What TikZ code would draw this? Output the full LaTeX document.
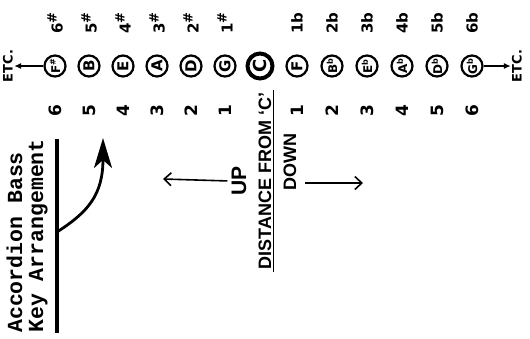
\documentclass[tikz,border=0pt]{standalone}
\usepackage{fontspec}
\setmainfont{Liberation Sans}
\setmonofont{Liberation Mono}
\newfontfamily\stencil{DejaVu Sans}
\usetikzlibrary{arrows,arrows.meta,positioning}

\newcommand{\shp}{\raisebox{0.4em}{\fontsize{13}{13}\selectfont\#}}

\begin{document}
\begin{tikzpicture}[x=1pt,y=-1pt,on grid,node distance=34pt,
  key node/.style={circle,draw,line width=2.2pt,minimum size=21pt,inner sep=0pt,rotate=90,
    font=\fontsize{15}{15}\stencil\bfseries},
  small key/.style={key node,font=\fontsize{12}{12}\stencil\bfseries},
  c node/.style={key node,line width=4pt,minimum size=25pt,font=\fontsize{18}{18}\stencil\bfseries},
  top label/.style={rotate=90,inner sep=1pt,font=\fontsize{15}{15}\stencil\bfseries},
  num label/.style={rotate=90,inner sep=1pt,font=\fontsize{17}{17}\stencil\bfseries},
  etc label/.style={rotate=90,inner sep=1pt,font=\fontsize{13}{13}\stencil\bfseries},
  dist label/.style={rotate=90,inner sep=2pt,font=\fontsize{18}{18}\selectfont\bfseries},
  dir arrow/.style={line width=1.6pt,-{Straight Barb[length=7pt,width=13pt]}}]

  \useasboundingbox (0,0) rectangle (530,338);

  % row of bass keys
  \node[c node] (c) at (260,66) {C};
  \node[key node] (g) [left=35pt of c] {G};
  \node[key node] (d) [left=of g] {D};
  \node[key node] (a) [left=of d] {A};
  \node[key node] (e) [left=of a] {E};
  \node[key node] (b) [left=of e] {B};
  \node[small key] (fs) [left=of b] {F\textsuperscript{\#}};
  \node[key node] (f) [right=37pt of c] {F};
  \node[small key] (bb) [right=35pt of f] {B\textsuperscript{b}};
  \node[small key] (eb) [right=35pt of bb] {E\textsuperscript{b}};
  \node[small key] (ab) [right=35pt of eb] {A\textsuperscript{b}};
  \node[small key] (db) [right=35pt of ab] {D\textsuperscript{b}};
  \node[small key] (gb) [right=35pt of db] {G\textsuperscript{b}};

  % sharps and flats above
  \node[top label] (s1) [above=43pt of g] {1\shp};
  \node[top label] (s2) [above=43pt of d] {2\shp};
  \node[top label] (s3) [above=43pt of a] {3\shp};
  \node[top label] (s4) [above=43pt of e] {4\shp};
  \node[top label] (s5) [above=43pt of b] {5\shp};
  \node[top label] (s6) [above=43pt of fs] {6\shp};
  \node[top label] (f1) [above=43pt of f] {1b};
  \node[top label] (f2) [above=43pt of bb] {2b};
  \node[top label] (f3) [above=43pt of eb] {3b};
  \node[top label] (f4) [above=43pt of ab] {4b};
  \node[top label] (f5) [above=43pt of db] {5b};
  \node[top label] (f6) [above=43pt of gb] {6b};

  % distance below
  \node[num label] (u1) [below=45pt of g] {1};
  \node[num label] (u2) [below=45pt of d] {2};
  \node[num label] (u3) [below=45pt of a] {3};
  \node[num label] (u4) [below=45pt of e] {4};
  \node[num label] (u5) [below=45pt of b] {5};
  \node[num label] (u6) [below=45pt of fs] {6};
  \node[num label] (d1) [below=45pt of f] {1};
  \node[num label] (d2) [below=45pt of bb] {2};
  \node[num label] (d3) [below=45pt of eb] {3};
  \node[num label] (d4) [below=45pt of ab] {4};
  \node[num label] (d5) [below=45pt of db] {5};
  \node[num label] (d6) [below=45pt of gb] {6};

  \node[etc label] (etcl) [left=47pt of fs] {ETC.};
  \node[etc label] (etcr) [right=45pt of gb] {ETC.};

  \path[line width=1.4pt,-{Latex[length=7pt,width=6pt]}]
      (fs) edge (etcl)
      (gb) edge (etcr);

  % up / down
  \node[dist label,font=\fontsize{21}{21}\selectfont\bfseries] (up) at (239,181) {UP};
  \node[dist label] (dist) at (265,181) {DISTANCE FROM `C'};
  \node[dist label] (down) at (290,162) {DOWN};
  \draw[line width=1.6pt] (dist.south west) -- (dist.south east);

  \coordinate (uptip) at (163,179);
  \coordinate (downtail) at (305,183);
  \coordinate (downtip) at (363,183);
  \draw[dir arrow,shorten <=2pt] (up.north) -- (uptip);
  \draw[dir arrow] (downtail) -- (downtip);

  % title with curved arrow
  \node[rotate=90,align=left,inner xsep=0pt,inner ysep=9pt,
    font=\fontsize{21.5}{21}\selectfont\ttfamily\bfseries] (acc) at (27,236)
    {Accordion Bass\\Key Arrangement};
  \draw[line width=3.5pt] (acc.south west) -- (acc.south east);

  \coordinate (bend) at (57,232);
  \coordinate (tip) at (103,138);
  \draw[line width=2.8pt,-{Stealth[length=30pt,width=18pt,inset=8pt]}]
      (bend) .. controls (88,212) and (103,195) .. (tip);
\end{tikzpicture}
\end{document}
